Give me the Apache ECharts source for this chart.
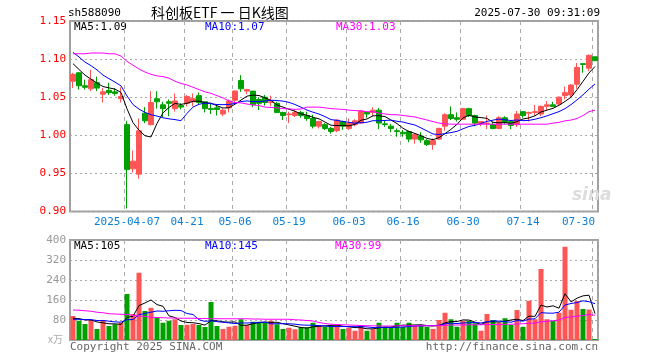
<!DOCTYPE html>
<html><head><meta charset="utf-8">
<script src="https://cdn.jsdelivr.net/npm/echarts@6/dist/echarts.min.js"></script>
<style>html,body{margin:0;padding:0;background:#fff}#c{width:660px;height:360px}</style>
</head><body><div id="c"></div>
<script>
const dates = ['2025-03-24','2025-03-25','2025-03-26','2025-03-27','2025-03-28','2025-03-31','2025-04-01','2025-04-02','2025-04-03','2025-04-07',
'2025-04-08','2025-04-09','2025-04-10','2025-04-11','2025-04-14','2025-04-15','2025-04-16','2025-04-17','2025-04-18','2025-04-21',
'2025-04-22','2025-04-23','2025-04-24','2025-04-25','2025-04-28','2025-04-29','2025-04-30','2025-05-06','2025-05-07','2025-05-08',
'2025-05-09','2025-05-12','2025-05-13','2025-05-14','2025-05-15','2025-05-16','2025-05-19','2025-05-20','2025-05-21','2025-05-22',
'2025-05-23','2025-05-26','2025-05-27','2025-05-28','2025-05-29','2025-05-30','2025-06-03','2025-06-04','2025-06-05','2025-06-06',
'2025-06-09','2025-06-10','2025-06-11','2025-06-12','2025-06-13','2025-06-16','2025-06-17','2025-06-18','2025-06-19','2025-06-20',
'2025-06-23','2025-06-24','2025-06-25','2025-06-26','2025-06-27','2025-06-30','2025-07-01','2025-07-02','2025-07-03','2025-07-04',
'2025-07-07','2025-07-08','2025-07-09','2025-07-10','2025-07-11','2025-07-14','2025-07-15','2025-07-16','2025-07-17','2025-07-18',
'2025-07-21','2025-07-22','2025-07-23','2025-07-24','2025-07-25','2025-07-28','2025-07-29','2025-07-30'];
const tickDates = ['2025-04-07','2025-04-21','2025-05-06','2025-05-19','2025-06-03','2025-06-16','2025-06-30','2025-07-14','2025-07-30'];

const opens = [1.071,1.082,1.065,1.061,1.069,1.054,1.059,1.057,1.048,1.014,
0.956,0.949,1.029,1.014,1.048,1.040,1.044,1.035,1.039,1.042,
1.044,1.052,1.044,1.035,1.036,1.028,1.036,1.046,1.072,1.058,
1.058,1.047,1.050,1.043,1.042,1.030,1.027,1.026,1.030,1.026,
1.022,1.012,1.014,1.009,1.006,1.018,1.009,1.014,1.016,1.030,
1.030,1.033,1.015,1.012,1.006,1.004,1.005,0.995,0.999,0.993,
0.988,0.995,1.012,1.027,1.023,1.021,1.035,1.026,1.015,1.015,
1.014,1.009,1.023,1.018,1.014,1.031,1.029,1.030,1.028,1.038,
1.040,1.041,1.052,1.053,1.067,1.094,1.088,1.103];
const closes = [1.080,1.065,1.063,1.073,1.062,1.057,1.056,1.055,1.051,0.955,
0.966,1.006,1.019,1.043,1.044,1.035,1.042,1.045,1.037,1.051,
1.048,1.043,1.035,1.034,1.034,1.033,1.045,1.058,1.061,1.060,
1.040,1.042,1.043,1.044,1.030,1.026,1.028,1.030,1.026,1.022,
1.012,1.018,1.009,1.005,1.020,1.012,1.016,1.019,1.032,1.028,
1.033,1.016,1.014,1.009,1.005,1.002,0.995,1.001,0.994,0.988,
0.993,1.009,1.027,1.022,1.021,1.035,1.026,1.016,1.018,1.016,
1.009,1.023,1.017,1.013,1.028,1.026,1.030,1.031,1.038,1.040,
1.038,1.050,1.056,1.066,1.089,1.093,1.105,1.098];
const lows = [1.062,1.060,1.060,1.058,1.058,1.043,1.053,1.052,1.043,0.904,
0.951,0.943,1.016,1.013,1.035,1.024,1.025,1.031,1.034,1.038,
1.038,1.040,1.030,1.028,1.026,1.025,1.030,1.042,1.057,1.054,
1.037,1.033,1.039,1.038,1.029,1.020,1.016,1.024,1.023,1.019,
1.009,1.009,1.007,1.002,1.004,1.007,1.007,1.012,1.015,1.023,
1.025,1.008,1.011,1.004,0.998,0.998,0.991,0.989,0.990,0.986,
0.981,0.994,1.006,1.020,1.018,1.020,1.024,1.012,1.012,1.008,
1.008,1.008,1.015,1.008,1.011,1.023,1.018,1.026,1.025,1.033,
1.037,1.039,1.047,1.050,1.061,1.082,1.084,1.097];
const highs = [1.082,1.083,1.073,1.086,1.077,1.062,1.069,1.062,1.063,1.019,
0.980,1.022,1.037,1.058,1.058,1.044,1.047,1.055,1.042,1.053,
1.055,1.056,1.044,1.041,1.039,1.035,1.047,1.059,1.079,1.061,
1.058,1.050,1.053,1.052,1.044,1.031,1.031,1.033,1.032,1.031,
1.027,1.019,1.016,1.011,1.021,1.019,1.022,1.021,1.033,1.031,
1.037,1.036,1.019,1.015,1.009,1.007,1.006,1.002,1.004,0.995,
0.996,1.010,1.029,1.038,1.030,1.036,1.036,1.027,1.018,1.026,
1.018,1.025,1.025,1.020,1.032,1.032,1.031,1.040,1.039,1.045,
1.044,1.051,1.064,1.067,1.095,1.094,1.106,1.103];
// volume, 万
const volumes = [96,77,64,80,44,80,56,63,69,184,
103,269,116,129,91,69,77,83,60,61,
64,60,52,152,56,44,53,57,83,60,
73,73,69,77,63,44,49,43,51,51,
69,60,53,58,60,44,49,37,57,37,
43,69,53,53,69,53,69,57,57,53,
44,80,109,83,53,77,77,67,37,104,
80,69,87,60,120,53,157,83,284,83,
77,109,373,121,156,124,122,4];
// sessions just before the first shown day, read back from the start of the MA5/MA10 lines
const priorCloses = [1.125,1.130,1.120,1.118,1.125,1.103,1.100,1.100,1.087];
const priorVolumes = [80,75,82,78,80,85,90,80,84];
// MA30 lines
const ma30 = [1.107,1.107,1.107,1.108,1.108,1.108,1.107,1.107,1.104,1.097,
1.092,1.087,1.083,1.080,1.078,1.077,1.075,1.071,1.068,1.066,
1.063,1.060,1.057,1.055,1.052,1.049,1.045,1.043,1.0425,1.041,
1.040,1.039,1.037,1.0365,1.036,1.035,1.0347,1.034,1.0345,1.037,
1.037,1.037,1.036,1.035,1.0345,1.034,1.033,1.0325,1.032,1.031,
1.031,1.029,1.028,1.027,1.027,1.026,1.025,1.024,1.022,1.020,
1.018,1.016,1.015,1.0146,1.0146,1.0146,1.0146,1.0146,1.0146,1.0146,
1.0146,1.0146,1.0146,1.0146,1.0146,1.0146,1.0146,1.0146,1.0146,1.0146,
1.016,1.017,1.019,1.020,1.022,1.026,1.031,1.033];
const volMa30 = [120,119,117,115,111,109,105,104,103,102,
99,96,94,91,90,89,88,88,87,87,
87,86,86,85,85,85,85,85,85,85,
84,84,83,83,83,83,83,81,80,78,
76,70,66,63,62,61,60,59,58,57,
57,56,56,56,57,57,57,57,57,57,
57,58,59,60,60,60,61,61,61,62,
62,62,63,63,64,65,67,68,73,75,
77,80,90,92,95,98,102,99];
const priceAxis = {min:0.90, max:1.15, interval:0.05};
const volAxis = {min:0, max:400, interval:80};
const labels = {
  code:'sh588090', title:'科创板ETF 一 日K线图', time:'2025-07-30 09:31:09',
  ma5:'MA5:1.09', ma10:'MA10:1.07', ma30:'MA30:1.03',
  vma5:'MA5:105', vma10:'MA10:145', vma30:'MA30:99',
  unit:'x万', copy:'Copyright 2025 SINA.COM', url:'http://finance.sina.com.cn'
};

function movingAvg(arr, prior, n, dp){
  const all = prior.concat(arr);
  return arr.map((_, i) => {
    const j = i + prior.length; let s = 0;
    for (let k = j - n + 1; k <= j; k++) s += all[k];
    return +(s / n).toFixed(dp);
  });
}
const ma5 = movingAvg(closes, priorCloses, 5, 4);
const ma10 = movingAvg(closes, priorCloses, 10, 4);
const vma5 = movingAvg(volumes, priorVolumes, 5, 1);
const vma10 = movingAvg(volumes, priorVolumes, 10, 1);

const UP = '#ff5555', DOWN = '#00a000';
const mono = 'DejaVu Sans Mono';
const kData = dates.map((d, i) => [opens[i], closes[i], lows[i], highs[i]]);
const vData = volumes.map((v, i) => ({value: v, itemStyle: {color: closes[i] >= opens[i] ? UP : DOWN}}));
const isTick = (i, v) => tickDates.indexOf(v) >= 0;
const vSplit = {show:true, interval:isTick, lineStyle:{color:'#aaaaaa', type:[4,4], width:1}};
const hSplit = {show:true, lineStyle:{color:'#aaaaaa', type:[2,3], width:1}};
function line(name, data, color, xi){
  return {name, type:'line', data, xAxisIndex:xi, yAxisIndex:xi, symbol:'none', silent:true,
    lineStyle:{color, width:1}, z:5};
}
function txt(x, y, text, color, opts){
  return Object.assign({type:'text', x, y, silent:true,
    style:Object.assign({text, fill:color, font:'11px "' + mono + '"', textVerticalAlign:'middle'}, opts||{})});
}

const chart = echarts.init(document.getElementById('c'));
chart.setOption({
  animation:false,
  backgroundColor:'#fff',
  grid:[
    {left:70, top:21, width:528, height:190.5, show:true, borderColor:'#a0a0a0', borderWidth:2},
    {left:70, top:240, width:528, height:100, show:true, borderColor:'#a0a0a0', borderWidth:2}
  ],
  xAxis:[
    {type:'category', gridIndex:0, data:dates, boundaryGap:true,
     axisLine:{show:false}, axisTick:{show:false},
     axisLabel:{interval:isTick, formatter:v => v === tickDates[0] ? v : v.slice(5),
       color:'#0a7fd6', fontFamily:mono, fontSize:11, margin:5, alignMaxLabel:'right'},
     splitLine:vSplit},
    {type:'category', gridIndex:1, data:dates, boundaryGap:true,
     axisLine:{show:false}, axisTick:{show:false}, axisLabel:{show:false}, splitLine:vSplit}
  ],
  yAxis:[
    {type:'value', gridIndex:0, min:priceAxis.min, max:priceAxis.max, interval:priceAxis.interval,
     axisLine:{show:false}, axisTick:{show:false},
     axisLabel:{color:'#ff0000', formatter:v => v.toFixed(2), fontFamily:mono, fontSize:11, margin:4},
     splitLine:hSplit},
    {type:'value', gridIndex:1, min:volAxis.min, max:volAxis.max, interval:volAxis.interval,
     axisLine:{show:false}, axisTick:{show:false},
     axisLabel:{color:'#999999', formatter:v => v === 0 ? '' : String(v), fontFamily:mono, fontSize:11, margin:4},
     splitLine:hSplit}
  ],
  series:[
    {type:'candlestick', data:kData, xAxisIndex:0, yAxisIndex:0, barWidth:5, silent:true,
     itemStyle:{color:UP, color0:DOWN, borderColor:UP, borderColor0:DOWN, borderWidth:1}},
    line('MA5', ma5, '#000000', 0),
    line('MA10', ma10, '#0000ff', 0),
    line('MA30', ma30, '#ff00ff', 0),
    {type:'bar', data:vData, xAxisIndex:1, yAxisIndex:1, barWidth:5, silent:true},
    line('VMA5', vma5, '#000000', 1),
    line('VMA10', vma10, '#0000ff', 1),
    line('VMA30', volMa30, '#ff00ff', 1)
  ],
  graphic:[
    txt(68, 13, labels.code, '#000'),
    {type:'text', x:151, y:13, silent:true, style:{text:labels.title, fill:'#000',
      font:'14px "Noto Sans CJK SC"', textVerticalAlign:'middle'}},
    txt(600, 13, labels.time, '#000', {textAlign:'right'}),
    txt(74, 27, labels.ma5, '#000'),
    txt(205, 27, labels.ma10, '#0000ff'),
    txt(336, 27, labels.ma30, '#ff00ff'),
    txt(74, 246, labels.vma5, '#000'),
    txt(205, 246, labels.vma10, '#0000ff'),
    txt(335, 246, labels.vma30, '#ff00ff'),
    {type:'text', x:48, y:339, silent:true, style:{text:labels.unit, fill:'#aaaaaa',
      font:'10px "Noto Sans CJK SC"', textVerticalAlign:'middle'}},
    txt(70, 347, labels.copy, '#666666'),
    txt(598, 347, labels.url, '#666666', {textAlign:'right'}),
    {type:'text', x:572, y:196, silent:true, style:{text:'sina', fill:'#dddddd',
      font:'italic bold 17px "DejaVu Sans"', textVerticalAlign:'middle'}}
  ]
});
</script>
</body></html>
